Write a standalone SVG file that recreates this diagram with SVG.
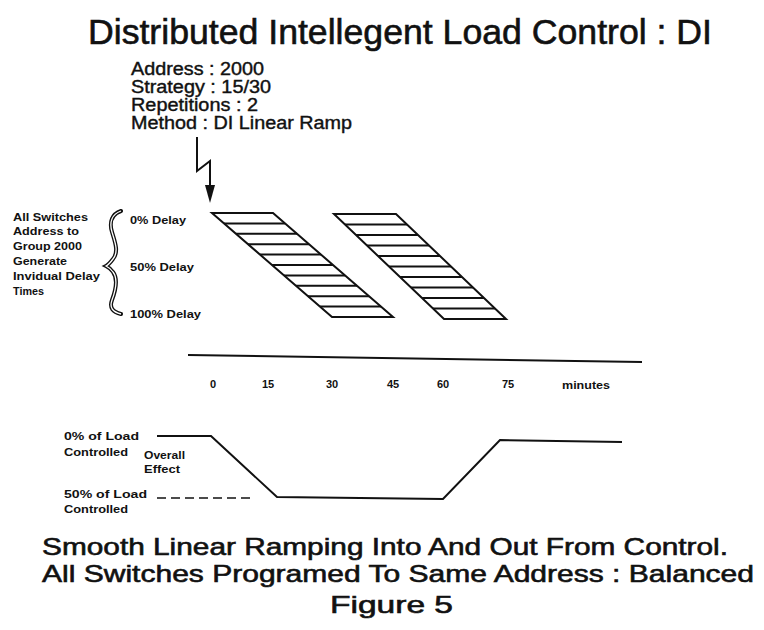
<svg xmlns="http://www.w3.org/2000/svg" width="764" height="630" viewBox="0 0 764 630">
<style>
  text { font-family: "Liberation Sans", Arial, sans-serif; fill: #111; }
  .title { font-size: 35px; stroke: #111; stroke-width: 0.6; }
  .info { font-size: 18px; stroke: #111; stroke-width: 0.4; }
  .small { font-size: 11px; font-weight: bold; }
  .caption { font-size: 24px; stroke: #111; stroke-width: 0.6; }
  .stroke { fill: none; stroke: #111; stroke-width: 2; stroke-linejoin: miter; }
  .hatch { fill: none; stroke: #111; stroke-width: 2; }
</style>
<defs>
  <marker id="arrow" markerWidth="18" markerHeight="10" refX="3" refY="5" orient="auto" markerUnits="userSpaceOnUse" viewBox="0 0 18 10">
    <path d="M0,0 L18,5 L0,10 Z" fill="#111"/>
  </marker>
</defs>
<rect width="764" height="630" fill="#fff"/>

<g id="title">
  <text class="title" x="88" y="44" textLength="624" lengthAdjust="spacingAndGlyphs">Distributed Intellegent Load Control : DI</text>
</g>

<g id="info">
  <text class="info" x="131" y="75" textLength="133" lengthAdjust="spacingAndGlyphs">Address : 2000</text>
  <text class="info" x="131" y="93" textLength="140" lengthAdjust="spacingAndGlyphs">Strategy : 15/30</text>
  <text class="info" x="131" y="111" textLength="127" lengthAdjust="spacingAndGlyphs">Repetitions : 2</text>
  <text class="info" x="131" y="129" textLength="221" lengthAdjust="spacingAndGlyphs">Method : DI Linear Ramp</text>
</g>

<g id="connectors">
  <polyline class="stroke" points="197,137 197,171 210,161 210,188" marker-end="url(#arrow)"/>
</g>

<g id="left-label">
  <text class="small" x="13" y="221" textLength="75" lengthAdjust="spacingAndGlyphs">All Switches</text>
  <text class="small" x="13" y="235" textLength="66" lengthAdjust="spacingAndGlyphs">Address to</text>
  <text class="small" x="13" y="250" textLength="69" lengthAdjust="spacingAndGlyphs">Group 2000</text>
  <text class="small" x="13" y="265" textLength="54" lengthAdjust="spacingAndGlyphs">Generate</text>
  <text class="small" x="13" y="280" textLength="87" lengthAdjust="spacingAndGlyphs">Invidual Delay</text>
  <text class="small" x="13" y="295" textLength="31" lengthAdjust="spacingAndGlyphs">Times</text>
</g>

<g id="brace">
  <path d="M121,211 C112,214 109,222 112,232 C115,242 119,252 113,259 C110,263 108,265 106,266 C108,267 111,269 113,272 C119,280 115,292 112,300 C109,308 113,312 121,314" fill="none" stroke="#111" stroke-width="4" stroke-linecap="round"/>
  <path d="M121,211 C112,214 109,222 112,232 C115,242 119,252 113,259 C110,263 108,265 106,266 C108,267 111,269 113,272 C119,280 115,292 112,300 C109,308 113,312 121,314" fill="none" stroke="#fff" stroke-width="1.3"/>
</g>

<g id="delay-labels">
  <text class="small" x="130" y="224" textLength="56" lengthAdjust="spacingAndGlyphs">0% Delay</text>
  <text class="small" x="130" y="271" textLength="64" lengthAdjust="spacingAndGlyphs">50% Delay</text>
  <text class="small" x="130" y="318" textLength="71" lengthAdjust="spacingAndGlyphs">100% Delay</text>
</g>

<g id="ramp1">
  <polygon class="hatch" points="212,213 273,213 393,317 332,317"/>
  <path class="hatch" d="M224,223.4 H285 M236,233.8 H297 M248,244.2 H309 M260,254.6 H321 M272,265 H333 M284,275.4 H345 M296,285.8 H357 M308,296.2 H369 M320,306.6 H381"/>
</g>

<g id="ramp2">
  <polygon class="hatch" points="334,214 396,214 506,319 444,319"/>
  <path class="hatch" d="M345,224.5 H407 M356,235 H418 M367,245.5 H429 M378,256 H440 M389,266.5 H451 M400,277 H462 M411,287.5 H473 M422,298 H484 M433,308.5 H495"/>
</g>

<g id="time-axis">
  <line x1="188" y1="355" x2="642" y2="362" stroke="#111" stroke-width="2"/>
  <text class="small" x="210" y="388">0</text>
  <text class="small" x="262" y="388">15</text>
  <text class="small" x="326" y="388">30</text>
  <text class="small" x="387" y="388">45</text>
  <text class="small" x="437" y="388">60</text>
  <text class="small" x="502" y="388">75</text>
  <text class="small" x="562" y="389" textLength="48" lengthAdjust="spacingAndGlyphs">minutes</text>
</g>

<g id="overall-effect">
  <polyline class="stroke" points="157,436 211,436 277,497 443,499 500,440 622,442"/>
  <line x1="157" y1="498" x2="250" y2="498" stroke="#111" stroke-width="1.6" stroke-dasharray="9,5"/>
  <text class="small" x="64" y="440" textLength="75" lengthAdjust="spacingAndGlyphs">0% of Load</text>
  <text class="small" x="64" y="456" textLength="64" lengthAdjust="spacingAndGlyphs">Controlled</text>
  <text class="small" x="144" y="459" textLength="41" lengthAdjust="spacingAndGlyphs">Overall</text>
  <text class="small" x="144" y="473" textLength="36" lengthAdjust="spacingAndGlyphs">Effect</text>
  <text class="small" x="64" y="498" textLength="83" lengthAdjust="spacingAndGlyphs">50% of Load</text>
  <text class="small" x="64" y="513" textLength="64" lengthAdjust="spacingAndGlyphs">Controlled</text>
</g>

<g id="caption">
  <text class="caption" x="42" y="555" textLength="686" lengthAdjust="spacingAndGlyphs">Smooth Linear Ramping Into And Out From Control.</text>
  <text class="caption" x="42" y="582" textLength="712" lengthAdjust="spacingAndGlyphs">All Switches Programed To Same Address : Balanced</text>
  <text class="caption" x="330" y="613" textLength="123" lengthAdjust="spacingAndGlyphs">Figure 5</text>
</g>
</svg>
